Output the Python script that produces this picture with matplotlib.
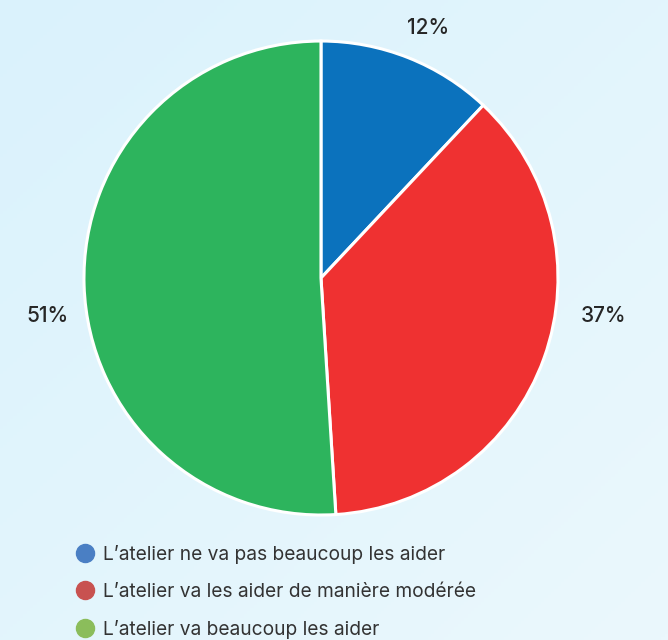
import matplotlib.pyplot as plt
from matplotlib.lines import Line2D
import numpy as np

# data
categories = ["L\u2019atelier ne va pas beaucoup les aider",
              "L\u2019atelier va les aider de mani\u00e8re mod\u00e9r\u00e9e",
              "L\u2019atelier va beaucoup les aider"]
values = [12, 37, 51]
pct_labels = ["12%", "37%", "51%"]
slice_colors = ["#0b72bd", "#ef3131", "#2db45d"]
legend_colors = ["#4a7fc4", "#c85250", "#8bbd5b"]

plt.rcParams['font.family'] = ['Inter', 'DejaVu Sans']

fig = plt.figure(figsize=(6.68, 6.4), dpi=100)

# light blue gradient background
bg = fig.add_axes([0, 0, 1, 1], zorder=0)
gx, gy = np.meshgrid(np.linspace(0, 1, 200), np.linspace(0, 1, 200))
grad = (gx + gy) / 2
bg.imshow(grad, cmap=plt.matplotlib.colors.LinearSegmentedColormap.from_list(
    "bgc", ["#daf2fc", "#ebf8fd"]), aspect='auto', extent=[0, 1, 0, 1], origin='upper')
bg.axis('off')

# pie
ax = fig.add_axes([0.1257, 0.1953, 0.7096, 0.7406], zorder=1)
ax.set_facecolor('none')
wedges, _ = ax.pie(values, colors=slice_colors, startangle=90, counterclock=False,
                   radius=1, wedgeprops=dict(edgecolor='white', linewidth=2.2))
ax.set_xlim(-1, 1)
ax.set_ylim(-1, 1)
ax.set_aspect('auto')

# percentage labels placed around the pie
label_xy = [(0.451, 1.055), (1.194, -0.16), (-1.152, -0.16)]
for txt, (lx, ly) in zip(pct_labels, label_xy):
    ax.text(lx, ly, txt, ha='center', va='center', fontsize=15,
            color='#262626', fontweight='medium', clip_on=False)

# legend
handles = [Line2D([0], [0], marker='o', linestyle='none', markersize=13,
                  markerfacecolor=c, markeredgecolor=c) for c in legend_colors]
fig.legend(handles, categories, loc='upper left', bbox_to_anchor=(0.102, 0.161),
           frameon=False, fontsize=13.8, labelcolor='#333333', handletextpad=0.4,
           labelspacing=1.0, borderaxespad=0, handlelength=1.0)

fig.savefig('out.png', dpi=100)
